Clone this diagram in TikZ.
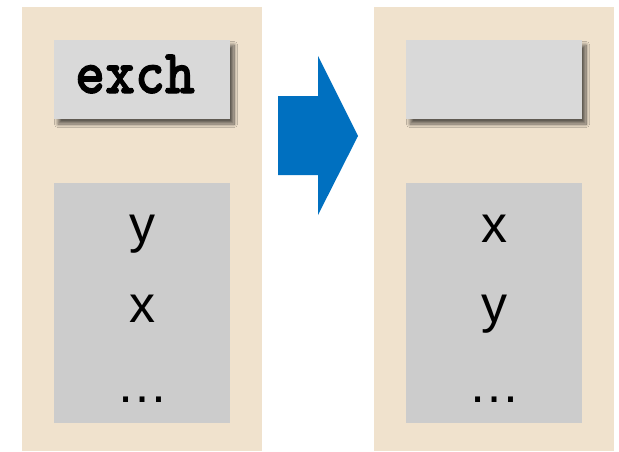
\documentclass[tikz,border=0pt]{standalone}
\usepackage{fontspec}
\setmainfont{Liberation Sans}
\newfontfamily\codefont{lmmonolt10-bold.otf}[FakeBold=1.6]
\usetikzlibrary{shadows.blur}
\definecolor{panelbg}{HTML}{F0E2CD}
\definecolor{topgray}{HTML}{D9D9D9}
\definecolor{stackgray}{HTML}{CCCCCC}
\definecolor{arrowblue}{HTML}{0070C0}
\tikzset{
  panel/.style={fill=panelbg, draw=none},
  opbox/.style={fill=topgray, draw=none, inner sep=0pt, minimum width=176pt, minimum height=79pt,
    blur shadow={shadow xshift=4pt, shadow yshift=-5pt, shadow blur radius=3.5pt, shadow opacity=60, shadow blur steps=14}},
  stackbox/.style={fill=stackgray, draw=none, inner sep=0pt, minimum width=176pt, minimum height=240pt},
  item/.style={font=\fontsize{52}{52}\selectfont, inner sep=0pt, anchor=base},
  optext/.style={font=\codefont\fontsize{57}{57}\selectfont, inner sep=0pt, anchor=base west},
}
\begin{document}
\begin{tikzpicture}[x=1pt,y=-1pt]
\useasboundingbox (0,0) rectangle (619,451);
\fill[panel] (22,7) rectangle (262,451);
\fill[panel] (374,7) rectangle (614,451);
\node[opbox] (opL) at (142,79.5) {};
\node[opbox] (opR) at (494,79.5) {};
\node[stackbox] (stL) at (142,303) {};
\node[stackbox] (stR) at (494,303) {};
\node[optext] (exch) at (75,93) {\scalebox{1}[1.1]{exch}};
\node[item] (l1) at (142,242) {y};
\node[item] (l2) at (142,322) {x};
\node[item] (l3) at (142,402) {\dots};
\node[item] (r1) at (494,242) {x};
\node[item] (r2) at (494,322) {y};
\node[item] (r3) at (494,402) {\dots};
\fill[arrowblue] (278,96) -- (318,96) -- (318,56) -- (358,136) -- (318,215) -- (318,175) -- (278,175) -- cycle;
\end{tikzpicture}
\end{document}
